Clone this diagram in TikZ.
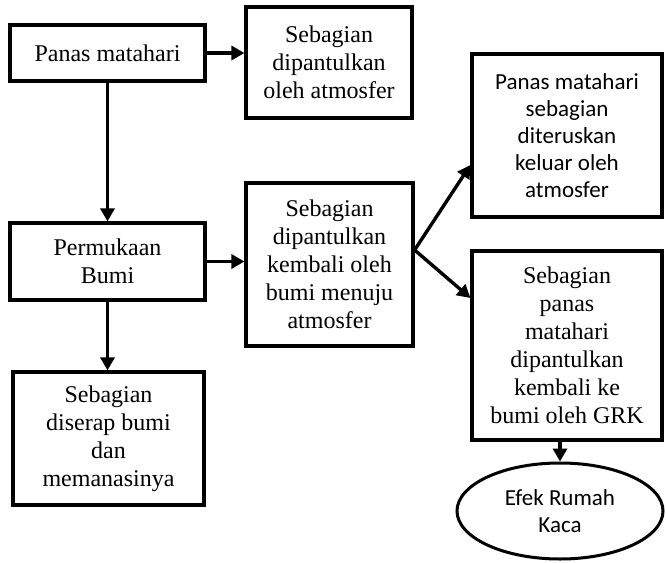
\documentclass[tikz,border=0pt]{standalone}
\usepackage{fontspec}
\setmainfont{Liberation Serif}
\newfontfamily\calib{Carlito}
\usetikzlibrary{arrows.meta,shapes.geometric}
\begin{document}
\begin{tikzpicture}[x=1pt,y=-1pt,
  box/.style={draw,line width=3.2pt,rectangle,align=center,inner sep=2pt,
    font=\fontsize{24}{28}\selectfont},
  sbox/.style={box,font=\calib\fontsize{23}{27}\selectfont},
  arr/.style={line width=3.4pt,-{Triangle[length=13pt,width=14pt]}}]
\useasboundingbox (0,0) rectangle (666,562);
\node[box,minimum width=195pt,minimum height=56pt] (A) at (107.5,53) {Panas matahari};
\node[box,minimum width=166pt,minimum height=111pt] (B) at (329,62.5) {Sebagian\\dipantulkan\\oleh atmosfer};
\node[box,minimum width=195pt,minimum height=77pt] (C) at (107.5,261.5) {Permukaan\\Bumi};
\node[box,minimum width=167pt,minimum height=163pt] (D) at (329.5,264.5) {Sebagian\\dipantulkan\\kembali oleh\\bumi menuju\\atmosfer};
\node[box,minimum width=191pt,minimum height=133pt] (E) at (108.5,438.5) {Sebagian\\diserap bumi\\dan\\memanasinya};
\node[sbox,minimum width=190pt,minimum height=163pt] (F) at (567,135.5) {Panas matahari\\sebagian\\diteruskan\\keluar oleh\\atmosfer};
\node[box,minimum width=190pt,minimum height=189pt] (G) at (567,345.5) {Sebagian\\panas\\matahari\\dipantulkan\\kembali ke\\bumi oleh GRK};
\node[draw,line width=3pt,ellipse,minimum width=206pt,minimum height=96pt,inner sep=0pt,align=center,
  font=\calib\fontsize{23}{27}\selectfont] (H) at (560,511) {Efek Rumah\\Kaca};
\coordinate (s) at ([yshift=14.5pt]D.east);
\draw[arr] (A.east) -- (A.east -| B.west);
\draw[arr] (A.south) -- (C.north);
\draw[arr] (C.east) -- (C.east -| D.west);
\draw[arr] (C.south) -- (C.south |- E.north);
\draw[arr] (s) -- ([yshift=-29.5pt]F.west);
\draw[arr] (s) -- ([yshift=47.5pt]G.west);
\draw[arr] (H.north |- G.south) -- (H.north);
\end{tikzpicture}
\end{document}
